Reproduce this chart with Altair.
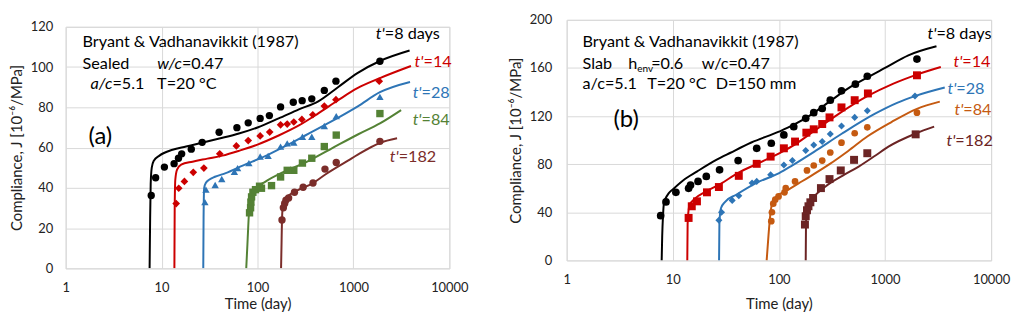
import altair as alt
import pandas as pd

FONT = "Lato"
NB = "\u00a0"

# ---------------- Panel (a): sealed ----------------
a_series = ["8", "14", "28", "84", "182"]
a_colors = ["#000000", "#cc0000", "#2e75b6", "#548235", "#7b2d2a"]
a_shapes = ["circle", "diamond", "triangle-up", "square", "circle"]
a_sizes = [55, 60, 55, 55, 55]

a8_pt_t = [7.8, 8.67, 10.7, 13.5, 15.0, 16.2, 20.4, 26.5, 39.8, 61, 80, 106.6, 133, 174, 236, 292, 368, 497, 657, 1888]
a8_pt_J = [36.2, 45.0, 50.3, 52.0, 54.7, 56.9, 59.2, 62.6, 67.6, 69.9, 72.3, 74.5, 75.9, 80.2, 82.5, 83.3, 84.2, 88.4, 93.0, 102.9]
a14_pt_t = [14.2, 15.1, 17.3, 21.4, 27.6, 40.4, 60.2, 80, 106.6, 134, 174, 204, 239, 290, 377, 497, 657, 1858]
a14_pt_J = [32.2, 39.8, 43.2, 47.7, 49.8, 56.9, 60.8, 63.5, 65.8, 67.7, 71.3, 71.7, 72.7, 74.0, 76.3, 80.6, 83.8, 93.0]
a28_pt_t = [28.3, 29.0, 36.2, 42.4, 57.4, 62, 81.3, 106.6, 129, 174, 204, 239, 294, 368, 497, 662, 1888]
a28_pt_J = [32.9, 39.1, 41.4, 44.4, 48.0, 49.8, 52.3, 55.6, 55.9, 60.5, 62.1, 62.5, 65.4, 65.4, 70.7, 75.6, 85.2]
a84_pt_t = [82.6, 84.7, 85.3, 86.7, 89.5, 95.3, 105, 110, 140, 174, 204, 239, 294, 368, 497, 662, 1888]
a84_pt_J = [27.6, 30.1, 32.9, 35.5, 37.8, 39.1, 40.8, 39.8, 41.1, 45.4, 48.7, 48.7, 52.3, 54.7, 60.5, 66.2, 76.9]
a182_pt_t = [180, 186, 192, 198, 211, 243, 299, 379, 505, 662, 1888]
a182_pt_J = [24.0, 30.1, 32.2, 33.9, 35.0, 37.8, 40.3, 42.4, 49.3, 52.6, 63.1]

a8_ln_t = [7.5, 7.6, 7.7, 7.9, 8.3, 9.5, 13, 18, 27, 40, 64, 100, 166, 270, 430, 690, 1100, 1890, 3850]
a8_ln_J = [0, 25, 42, 50, 53.5, 56, 58.9, 60.5, 62.5, 64.5, 67, 70, 74.5, 79, 83, 90, 97, 103, 108.2]
a14_ln_t = [13.6, 13.7, 13.9, 14.5, 16, 21, 30, 43, 65, 100, 166, 270, 430, 690, 1100, 1890, 3980]
a14_ln_J = [0, 30, 44, 49, 51.5, 53, 54.5, 56, 58.5, 61.5, 66, 71, 77, 83.5, 89.5, 94.5, 100.5]
a28_ln_t = [27.2, 27.4, 27.8, 29, 31.3, 36, 46.6, 70, 130, 200, 314, 590, 1110, 1890, 3890]
a28_ln_J = [0, 25, 40, 42.5, 44, 45.5, 47.3, 51, 56.5, 61, 66, 73, 80.5, 87.5, 92.6]
a84_ln_t = [76.3, 78.5, 81.5, 84, 88, 95, 120, 180, 314, 590, 1110, 1890, 3140]
a84_ln_J = [0, 12, 27.6, 33, 37, 39.5, 43, 47.5, 52.5, 59.5, 66.5, 72, 78.6]
a182_ln_t = [176, 178, 180, 185, 195, 211, 260, 368, 505, 877, 1110, 1888, 2850]
a182_ln_J = [0, 12, 24, 32.5, 34.8, 36.2, 38.8, 42, 46.5, 53.5, 56.5, 62.3, 64.6]

# ---------------- Panel (b): slab ----------------
b_series = ["8", "14", "28", "84", "182"]
b_colors = ["#000000", "#cc0000", "#2e75b6", "#c55a11", "#6b2424"]
b_shapes = ["circle", "square", "diamond", "circle", "square"]
b_sizes = [60, 64, 50, 45, 64]

b8_pt_t = [7.69, 8.63, 10.7, 14.1, 14.7, 17.3, 20.7, 27.6, 41.3, 61.8, 84.8, 111.4, 138, 179, 213, 256, 305, 389, 526, 681, 2000]
b8_pt_J = [37.2, 48.6, 56.6, 59.9, 62.6, 65.7, 69.8, 75.3, 83.0, 93.2, 97.4, 104.3, 111.2, 118.1, 122.8, 126.3, 133.2, 141.0, 146.5, 153.1, 167.4]
b14_pt_t = [14.1, 15.1, 16.9, 21.0, 27.2, 41.9, 61.8, 83.6, 111.4, 142, 181.5, 213, 256, 300, 389, 518, 690, 2000]
b14_pt_J = [35.3, 45.0, 49.1, 56.6, 61.0, 70.3, 80.3, 86.3, 93.2, 98.8, 106.2, 109.0, 113.4, 118.9, 127.2, 133.2, 138.8, 153.9]
b28_pt_t = [27.2, 28.8, 36.3, 41.9, 55.9, 61.8, 83.6, 111.4, 134, 179, 213, 256, 305, 389, 518, 681, 1916]
b28_pt_J = [33.4, 40.0, 49.9, 53.8, 64.3, 65.7, 71.2, 79.4, 83.0, 91.3, 96.0, 98.8, 105.1, 111.7, 118.9, 124.4, 136.6]
b84_pt_t = [84.8, 86.0, 88.5, 92.4, 99.3, 113, 116, 142, 184, 213, 256, 305, 389, 518, 681, 2000]
b84_pt_J = [32.6, 40.0, 47.2, 50.5, 53.2, 56.6, 60.1, 65.7, 74.8, 78.9, 83.0, 89.7, 97.9, 105.7, 110.6, 122.8]
b182_pt_t = [176, 179, 184, 190, 198, 210, 249, 300, 383, 511, 681, 1945]
b182_pt_J = [29.8, 36.7, 41.7, 45.0, 48.3, 51.9, 60.1, 67.6, 74.8, 83.6, 89.1, 104.8]

b8_ln_t = [7.86, 7.95, 8.1, 8.27, 8.6, 9.1, 10, 12.5, 17, 25.7, 35, 55, 100, 140, 200, 300, 450, 680, 1000, 1660, 3055]
b8_ln_J = [0, 20, 38, 48, 52, 55.5, 59, 66.5, 74, 83.5, 89.5, 98, 107, 113, 121, 132, 143, 152, 160, 170.5, 178]
b14_ln_t = [13.7, 13.8, 14.1, 14.5, 16, 20.7, 28, 41, 65, 100.6, 140, 192, 341, 681, 1200, 2000, 3357]
b14_ln_J = [0, 30, 42, 46.5, 51, 57.4, 63.5, 72.6, 81, 89, 96, 104.5, 120, 136.5, 147, 154.5, 160.8]
b28_ln_t = [27.3, 27.5, 28, 28.5, 31, 39.6, 60.9, 100.6, 134, 221, 394, 806, 1300, 1916, 3656]
b28_ln_J = [0, 30, 40, 43.6, 48.5, 54.6, 64.3, 72.6, 79, 91, 105.5, 122, 131, 136.6, 143.7]
b84_ln_t = [76.7, 80, 84, 88, 94, 116, 167, 300, 450, 681, 1150, 2000, 3283]
b84_ln_J = [0, 22, 42, 49, 53, 57.5, 66, 80, 91, 103, 115, 126, 132]
b182_ln_t = [179, 180, 182, 192, 210, 275, 400, 565, 807, 1078, 1945, 2905]
b182_ln_J = [0, 28, 40, 47, 52, 61.5, 70.5, 78, 87, 94.6, 105.5, 111.2]

x_ticks = [1, 10, 100, 1000, 10000]
a_y_ticks = [0, 20, 40, 60, 80, 100, 120]
b_y_ticks = [0, 40, 80, 120, 160, 200]


def build_frames(series, colors, shapes, sizes, pts, lns):
    prow, lrow = [], []
    for s, c, sh, sz, (pt, pj), (lt, lj) in zip(series, colors, shapes, sizes, pts, lns):
        for t, j in zip(pt, pj):
            prow.append({"s": s, "t": t, "J": j, "col": c, "shape": sh, "sz": sz})
        for i, (t, j) in enumerate(zip(lt, lj)):
            lrow.append({"s": s, "t": t, "J": j, "col": c, "i": i})
    return pd.DataFrame(prow), pd.DataFrame(lrow)


def txt(s, x, y, color="#000000", size=16.3, italic=False, align="left", baseline="middle"):
    return alt.Chart(pd.DataFrame({"a": [0]})).mark_text(
        text=s, align=align, baseline=baseline, fontSize=size, font=FONT,
        fontStyle="italic" if italic else "normal", color=color
    ).encode(x=alt.value(x), y=alt.value(y))


def panel(pdf, ldf, ymax, yticks, w, h, lab_pad_x, title_pad_x, lab_pad_y, title_pad_y, texts):
    xenc = alt.X("t:Q", scale=alt.Scale(type="log", domain=[1, 10000]),
                 axis=alt.Axis(values=x_ticks, format="d", title="Time (day)", labelFlush=False,
                               labelPadding=lab_pad_x, titlePadding=title_pad_x))
    yenc = alt.Y("J:Q", scale=alt.Scale(domain=[0, ymax]),
                 axis=alt.Axis(values=yticks, title="Compliance, J [10⁻⁶/MPa]",
                               labelPadding=lab_pad_y, titlePadding=title_pad_y))
    lines = alt.Chart(ldf).mark_line(strokeWidth=2, interpolate="monotone", clip=True).encode(
        x=xenc, y=yenc, color=alt.Color("col:N", scale=None), detail="s:N", order="i:Q")
    points = alt.Chart(pdf).mark_point(filled=True, opacity=1).encode(
        x=xenc, y=yenc, color=alt.Color("col:N", scale=None),
        shape=alt.Shape("shape:N", scale=None), size=alt.Size("sz:Q", scale=None))
    return alt.layer(lines, points, *texts).properties(width=w, height=h)


a_pdf, a_ldf = build_frames(
    a_series, a_colors, a_shapes, a_sizes,
    [(a8_pt_t, a8_pt_J), (a14_pt_t, a14_pt_J), (a28_pt_t, a28_pt_J), (a84_pt_t, a84_pt_J), (a182_pt_t, a182_pt_J)],
    [(a8_ln_t, a8_ln_J), (a14_ln_t, a14_ln_J), (a28_ln_t, a28_ln_J), (a84_ln_t, a84_ln_J), (a182_ln_t, a182_ln_J)])
b_pdf, b_ldf = build_frames(
    b_series, b_colors, b_shapes, b_sizes,
    [(b8_pt_t, b8_pt_J), (b14_pt_t, b14_pt_J), (b28_pt_t, b28_pt_J), (b84_pt_t, b84_pt_J), (b182_pt_t, b182_pt_J)],
    [(b8_ln_t, b8_ln_J), (b14_ln_t, b14_ln_J), (b28_ln_t, b28_ln_J), (b84_ln_t, b84_ln_J), (b182_ln_t, b182_ln_J)])

a_texts = [
    txt("Bryant & Vadhanavikkit (1987)", 17, 15),
    txt("Sealed", 17, 37),
    txt("w/c", 117, 37, italic=True, align="right"),
    txt("=0.47", 117, 37),
    txt("a/c", 47, 58, italic=True, align="right"),
    txt("=5.1", 47, 58),
    txt("T=20" + NB + "°C", 92, 58),
    txt("(a)", 23, 111, size=24),
    txt("t'", 321, 7, italic=True, align="right"), txt("=8" + NB + "days", 321, 7),
    txt("t'", 360, 35, color=a_colors[1], italic=True, align="right"), txt("=14", 360, 35, color=a_colors[1]),
    txt("t'", 358, 67, color=a_colors[2], italic=True, align="right"), txt("=28", 358, 67, color=a_colors[2]),
    txt("t'", 358, 94, color=a_colors[3], italic=True, align="right"), txt("=84", 358, 94, color=a_colors[3]),
    txt("t'", 335, 131, color=a_colors[4], italic=True, align="right"), txt("=182", 335, 131, color=a_colors[4]),
]

b_texts = [
    txt("Bryant & Vadhanavikkit (1987)", 16, 22),
    txt("Slab", 16, 44),
    txt("h", 62, 44), txt("env", 71, 49, size=10), txt("=0.6", 85, 44),
    txt("w/c=0.47", 136, 44),
    txt("a/c=5.1", 16, 65),
    txt("T=20" + NB + "°C", 81, 65),
    txt("D=150" + NB + "mm", 150, 65),
    txt("(b)", 47, 101, size=24),
    txt("t'", 372, 14, italic=True, align="right"), txt("=8" + NB + "days", 372, 14),
    txt("t'", 398, 42, color=b_colors[1], italic=True, align="right"), txt("=14", 398, 42, color=b_colors[1]),
    txt("t'", 392, 70, color=b_colors[2], italic=True, align="right"), txt("=28", 392, 70, color=b_colors[2]),
    txt("t'", 399, 91, color=b_colors[3], italic=True, align="right"), txt("=84", 399, 91, color=b_colors[3]),
    txt("t'", 391, 122, color=b_colors[4], italic=True, align="right"), txt("=182", 391, 122, color=b_colors[4]),
]

left = panel(a_pdf, a_ldf, 120, a_y_ticks, 386, 243, 13, 2, 13, 6, a_texts)
right = panel(b_pdf, b_ldf, 200, b_y_ticks, 427, 242, 13, 10, 15, 6, b_texts)

spacer = alt.Chart(pd.DataFrame({"a": [0]}), view=alt.ViewBackground(stroke="transparent")).mark_point(
    opacity=0).properties(width=386, height=1)
left_col = alt.vconcat(spacer, left, spacing=-4)

chart = alt.hconcat(left_col, right, spacing=38).properties(
    padding={"left": 0, "top": 4, "right": 0, "bottom": 0}
).configure_view(stroke="#d9d9d9", strokeWidth=1).configure_axis(
    labelFont=FONT, labelFontSize=13, labelColor="#222222",
    titleFont=FONT, titleFontSize=15, titleFontWeight="normal", titleColor="#222222",
    gridColor="#d9d9d9", gridWidth=1, domain=False, ticks=False, tickSize=0
)

chart.save("out.html", embed_options={"renderer": "svg", "actions": False})
